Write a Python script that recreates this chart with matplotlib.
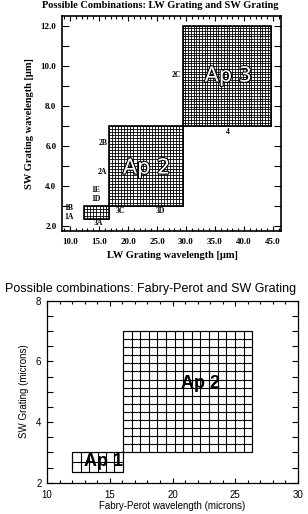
import numpy as np
import matplotlib
matplotlib.use("Agg")
import matplotlib.pyplot as plt
import matplotlib.patheffects as pe
from matplotlib.patches import Rectangle
from matplotlib.ticker import MultipleLocator, FormatStrFormatter

# ==============================================================
# Data: top panel (LW grating vs SW grating)
# ==============================================================
lw_names = ["Ap 1", "Ap 2", "Ap 3"]
lw_x0 = [12.4, 16.7, 29.4]
lw_x1 = [16.7, 29.4, 44.6]
lw_y0 = [2.33, 3.0, 7.0]
lw_y1 = [3.0, 7.0, 12.0]
lw_ncol = [8, 24, 32]
lw_nrow = [4, 26, 37]

big_names = ["Ap 2", "Ap 3"]
big_x = [23.2, 37.3]
big_y = [4.9, 9.5]

order_names = ["1B", "1A", "1E", "1D", "2B", "2A", "2C", "3A", "3C", "3D", "4"]
order_x = [10.6, 10.6, 15.2, 15.3, 16.4, 16.3, 29.1, 14.9, 18.7, 25.5, 37.2]
order_y = [2.88, 2.45, 3.78, 3.33, 6.12, 4.70, 9.53, 2.15, 2.73, 2.73, 6.70]
order_ha = ["right", "right", "right", "right", "right", "right", "right",
            "center", "center", "center", "center"]

lw_xticks = [10.0, 15.0, 20.0, 25.0, 30.0, 35.0, 40.0, 45.0]
lw_yticks = [2.0, 4.0, 6.0, 8.0, 10.0, 12.0]

# ==============================================================
# Data: bottom panel (Fabry-Perot vs SW grating)
# ==============================================================
fp_names = ["Ap 1", "Ap 2"]
fp_x0 = [12.0, 16.05]
fp_x1 = [16.05, 26.35]
fp_y0 = [2.35, 3.0]
fp_y1 = [3.0, 7.0]
fp_ncol = [6, 15]
fp_nrow = [2, 15]
fp_lab_x = [14.5, 22.2]
fp_lab_y = [2.69, 5.26]

fp_xticks = [10, 15, 20, 25, 30]
fp_yticks = [2, 4, 6, 8]

W, H = 308, 514


def fx(x):
    return x / W


def fy(y):
    return 1 - y / H


def grid_box(ax, x0, x1, y0, y1, ncol, nrow, lw, edge_lw):
    ax.vlines(np.linspace(x0, x1, ncol + 1), y0, y1, color="black", lw=lw)
    ax.hlines(np.linspace(y0, y1, nrow + 1), x0, x1, color="black", lw=lw)
    ax.add_patch(Rectangle((x0, y0), x1 - x0, y1 - y0, fill=False,
                           edgecolor="black", lw=edge_lw))


fig = plt.figure(figsize=(W / 100, H / 100), dpi=100)

# ==============================================================
# Top panel
# ==============================================================
serif = "Liberation Serif"
ax1 = fig.add_axes([fx(62), fy(231), fx(281) - fx(62), fy(16) - fy(231)])
for i in range(len(lw_names)):
    grid_box(ax1, lw_x0[i], lw_x1[i], lw_y0[i], lw_y1[i],
             lw_ncol[i], lw_nrow[i], 0.6, 1.2)

for name, x, y in zip(big_names, big_x, big_y):
    ax1.text(x, y, name, ha="center", va="center", fontsize=15,
             family="DejaVu Sans", color="white",
             path_effects=[pe.Stroke(linewidth=1.6, foreground="black"), pe.Normal()])

for name, x, y, ha in zip(order_names, order_x, order_y, order_ha):
    ax1.text(x, y, name, ha=ha, va="center", fontsize=5.5,
             family=serif, weight="bold")

ax1.set_xlim(8.6, 46.4)
ax1.set_ylim(1.73, 12.48)
ax1.set_xticks(lw_xticks)
ax1.set_yticks(lw_yticks)
ax1.xaxis.set_major_formatter(FormatStrFormatter("%.1f"))
ax1.yaxis.set_major_formatter(FormatStrFormatter("%.1f"))
ax1.xaxis.set_minor_locator(MultipleLocator(1.0))
ax1.yaxis.set_minor_locator(MultipleLocator(1.0))
ax1.tick_params(which="both", direction="in", top=True, right=True, width=0.8)
ax1.tick_params(axis="x", which="major", length=3.6, pad=5)
ax1.tick_params(axis="x", which="minor", length=2.0)
ax1.tick_params(axis="y", which="both", length=5, pad=4)
for lab in ax1.get_xticklabels() + ax1.get_yticklabels():
    lab.set_family(serif)
    lab.set_weight("bold")
    lab.set_fontsize(6.5)
for s in ax1.spines.values():
    s.set_linewidth(1.2)

fig.text(fx(160), fy(5), "Possible Combinations: LW Grating and SW Grating",
         ha="center", va="center", fontsize=7.5, family=serif, weight="bold")
fig.text(fx(172), fy(256), "LW Grating wavelength [\u03bcm]",
         ha="center", va="center", fontsize=7.5, family=serif, weight="bold")
fig.text(fx(30), fy(124), "SW Grating wavelength [\u03bcm]", rotation=90,
         ha="center", va="center", fontsize=7.5, family=serif, weight="bold")

# ==============================================================
# Bottom panel
# ==============================================================
sans = "Liberation Sans"
ax2 = fig.add_axes([fx(47), fy(482.7), fx(298) - fx(47), fy(300.7) - fy(482.7)])
for i in range(len(fp_names)):
    grid_box(ax2, fp_x0[i], fp_x1[i], fp_y0[i], fp_y1[i],
             fp_ncol[i], fp_nrow[i], 0.8, 0.8)
for name, x, y in zip(fp_names, fp_lab_x, fp_lab_y):
    ax2.text(x, y, name, ha="center", va="center", fontsize=13,
             family=sans, weight="bold")

ax2.set_xlim(10, 30)
ax2.set_ylim(2, 8)
ax2.set_xticks(fp_xticks)
ax2.set_yticks(fp_yticks)
ax2.xaxis.set_minor_locator(MultipleLocator(1))
ax2.yaxis.set_minor_locator(MultipleLocator(0.5))
ax2.tick_params(which="both", direction="in", top=True, right=True, width=0.8)
ax2.tick_params(axis="x", which="major", length=3.5, pad=5)
ax2.tick_params(axis="x", which="minor", length=2.0)
ax2.tick_params(axis="y", which="both", length=4, pad=4)
for lab in ax2.get_xticklabels() + ax2.get_yticklabels():
    lab.set_family(sans)
    lab.set_fontsize(7)
for lab in ax2.get_yticklabels():
    lab.set_va("center_baseline")
for s in ax2.spines.values():
    s.set_linewidth(0.9)

fig.text(fx(151), fy(289), "Possible combinations: Fabry-Perot and SW Grating",
         ha="center", va="center", fontsize=9, family=sans)
fig.text(fx(172), fy(506), "Fabry-Perot wavelength (microns)",
         ha="center", va="center", fontsize=7, family=sans)
fig.text(fx(24), fy(391), "SW Grating (microns)", rotation=90,
         ha="center", va="center", fontsize=7, family=sans)

fig.savefig("out.png", dpi=100)
